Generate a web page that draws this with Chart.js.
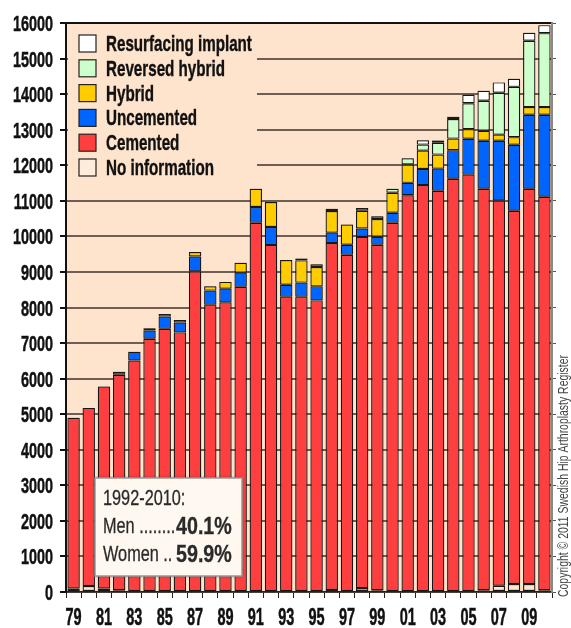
<!DOCTYPE html>
<html>
<head>
<meta charset="utf-8">
<script src="https://cdn.jsdelivr.net/npm/chart.js@4.4.1/dist/chart.umd.min.js"></script>
<style>
  html, body { margin: 0; padding: 0; background: #fff; }
  canvas { display: block; }
</style>
</head>
<body>
<canvas id="hipChart" width="571" height="628"></canvas>
<script>
const years = ['79','80','81','82','83','84','85','86','87','88','89','90','91','92','93','94',
               '95','96','97','98','99','00','01','02','03','04','05','06','07','08','09','10'];

const noInfo     = [100,170,100,50,0,0,0,0,0,0,0,0,0,0,0,0,0,55,0,110,50,0,0,0,0,0,0,50,175,225,225,50];
const cemented   = [4800,5005,5680,6060,6510,7120,7400,7300,9015,8080,8145,8585,10385,9760,8305,8305,
                    8200,9760,9485,9875,9715,10385,11155,11445,11285,11620,11735,11290,10835,10495,11115,11065];
const uncemented = [0,0,0,80,245,230,345,275,420,395,385,395,440,505,335,395,
                    395,290,280,235,225,280,350,450,620,800,1010,1350,1680,1855,2080,2305];
const hybrid     = [0,0,0,0,0,65,75,75,125,120,190,280,515,700,695,625,
                    545,610,570,500,500,560,515,515,395,330,270,280,170,215,215,215];
const revHybrid  = [0,0,0,0,0,0,0,0,0,0,0,0,0,0,0,55,
                    75,65,0,75,75,115,175,170,330,550,730,845,1180,1415,1865,2080];
const resurfacing= [0,0,0,0,0,0,0,0,0,0,0,0,0,0,0,0,
                    0,0,0,0,0,0,0,120,65,65,235,280,290,225,225,225];

const yTicks = [0,1000,2000,3000,4000,5000,6000,7000,8000,9000,10000,11000,12000,13000,14000,15000,16000];

const noteLines = ['1992-2010:', 'Men ........', 'Women ..'];
const notePct = ['', '40.1%', '59.9%'];
const copyright = 'Copyright \u00A9 2011 Swedish Hip Arthroplasty Register';

const SANS = "'Liberation Sans', Arial, sans-serif";
const PEACH = '#fee4cc';

// text squeezed sideways, the original uses a condensed face
function drawNarrow(ctx, text, x, y, font, sx, align, heavy) {
    ctx.save();
    ctx.font = font;
    ctx.textAlign = align || 'left';
    ctx.textBaseline = 'alphabetic';
    ctx.translate(x, y);
    ctx.scale(sx, 1);
    ctx.fillText(text, 0, 0);
    if (heavy) {
        ctx.strokeStyle = ctx.fillStyle;
        ctx.lineWidth = heavy;
        ctx.strokeText(text, 0, 0);
    }
    ctx.restore();
}

const bgPlugin = {
    id: 'bg',
    beforeDraw(chart) {
        const { ctx, chartArea: a } = chart;
        ctx.save();
        ctx.fillStyle = '#fff';
        ctx.fillRect(0, 0, chart.width, chart.height);
        ctx.fillStyle = PEACH;
        ctx.fillRect(a.left, a.top, a.right - a.left, a.bottom - a.top);
        ctx.restore();
    },
    beforeDatasetsDraw(chart) {
        chart.ctx.save();
        chart.ctx.shadowColor = 'rgba(0,0,0,0.45)';
        chart.ctx.shadowBlur = 2;
    },
    afterDatasetsDraw(chart) {
        chart.ctx.restore();
    }
};

const extrasPlugin = {
    id: 'extras',
    afterDraw(chart) {
        const { ctx, chartArea: a } = chart;
        const xs = chart.scales.x, ys = chart.scales.y;
        ctx.save();
        ctx.fillStyle = '#111';

        // axis labels
        ys.ticks.forEach(t => {
            drawNarrow(ctx, String(t.value), ys.right - 13, ys.getPixelForValue(t.value) + 8,
                       'bold 22px ' + SANS, 0.655, 'right', 0.5);
        });
        years.forEach((y, i) => {
            if (i % 2 === 0) drawNarrow(ctx, y, xs.getPixelForTick(i), 625, 'bold 23px ' + SANS, 0.63, 'center', 0.5);
        });

        // legend
        ctx.fillStyle = PEACH;
        ctx.fillRect(a.left + 2, a.top + 3, 189, 158);
        const sets = chart.data.datasets.slice().reverse();
        sets.forEach((ds, i) => {
            const y = a.top + 20 + i * 24.8;
            ctx.fillStyle = ds.legendColor || ds.backgroundColor;
            ctx.fillRect(a.left + 13, y - 8, 17, 17);
            ctx.strokeStyle = '#222';
            ctx.lineWidth = 1.2;
            ctx.strokeRect(a.left + 13, y - 8, 17, 17);
            ctx.fillStyle = '#111';
            drawNarrow(ctx, ds.label, a.left + 40, y + 8, 'bold 22px ' + SANS, 0.69, 'left', 0.4);
        });

        // note box
        ctx.save();
        ctx.shadowColor = 'rgba(0,0,0,0.5)';
        ctx.shadowBlur = 3;
        ctx.fillStyle = '#fff8f1';
        ctx.fillRect(95, 478, 147, 98);
        ctx.restore();
        ctx.strokeStyle = '#999';
        ctx.lineWidth = 1.5;
        ctx.strokeRect(95, 478, 147, 98);
        ctx.fillStyle = '#2a2a2a';
        noteLines.forEach((t, i) => {
            const y = 505 + i * 28;
            drawNarrow(ctx, t, 103, y, '22px ' + SANS, 0.74, 'left', 0.3);
            if (notePct[i]) drawNarrow(ctx, notePct[i], 176, y + 1, 'bold 24px ' + SANS, 0.82, 'left', 0.3);
        });

        // copyright, rotated
        ctx.translate(568, 597);
        ctx.rotate(-Math.PI / 2);
        ctx.font = '14px ' + SANS;
        const sx = 242 / ctx.measureText(copyright).width;
        ctx.fillStyle = '#444';
        drawNarrow(ctx, copyright, 0, 0, '14px ' + SANS, sx, 'left');
        ctx.restore();
    }
};

const ctx = document.getElementById('hipChart').getContext('2d');
new Chart(ctx, {
    type: 'bar',
    data: {
        labels: years,
        datasets: [
            { label: 'No information', data: noInfo, backgroundColor: '#fde6d0', legendColor: '#fdebdc' },
            { label: 'Cemented', data: cemented, backgroundColor: '#ff3f3f' },
            { label: 'Uncemented', data: uncemented, backgroundColor: '#0064ff' },
            { label: 'Hybrid', data: hybrid, backgroundColor: '#ffcc00' },
            { label: 'Reversed hybrid', data: revHybrid, backgroundColor: '#ccffcc' },
            { label: 'Resurfacing implant', data: resurfacing, backgroundColor: '#ffffff' }
        ].map(d => Object.assign(d, {
            borderColor: '#1a1a1a', borderWidth: 1.2, borderSkipped: false,
            barPercentage: 0.81, categoryPercentage: 1
        }))
    },
    options: {
        responsive: false,
        animation: false,
        layout: { padding: { top: 23, left: 0, right: 0, bottom: 0 } },
        plugins: { legend: { display: false }, tooltip: { enabled: false } },
        scales: {
            x: {
                stacked: true,
                grid: { drawOnChartArea: false, drawTicks: true, tickLength: 6, color: '#222', offset: true },
                border: { color: '#222', width: 1.5 },
                ticks: { display: false, autoSkip: false },
                afterFit: s => { s.height = 36; }
            },
            y: {
                stacked: true, min: 0, max: 16000,
                afterBuildTicks: s => { s.ticks = yTicks.map(v => ({ value: v })); },
                grid: {
                    color: c => c.tick && c.tick.value === 16000 ? '#111' : '#6e5e54',
                    lineWidth: 2, tickLength: 6, tickColor: '#111'
                },
                border: { color: '#111', width: 2 },
                ticks: { display: false },
                afterFit: s => { s.width = 66; }
            },
            y2: {
                position: 'right', min: 0, max: 16000,
                afterBuildTicks: s => { s.ticks = yTicks.map(v => ({ value: v })); },
                grid: { drawOnChartArea: false, tickLength: 4, tickColor: '#555' },
                border: { color: '#888', width: 2 },
                ticks: { display: false },
                afterFit: s => { s.width = 19; }
            }
        }
    },
    plugins: [bgPlugin, extrasPlugin]
});
</script>
</body>
</html>
